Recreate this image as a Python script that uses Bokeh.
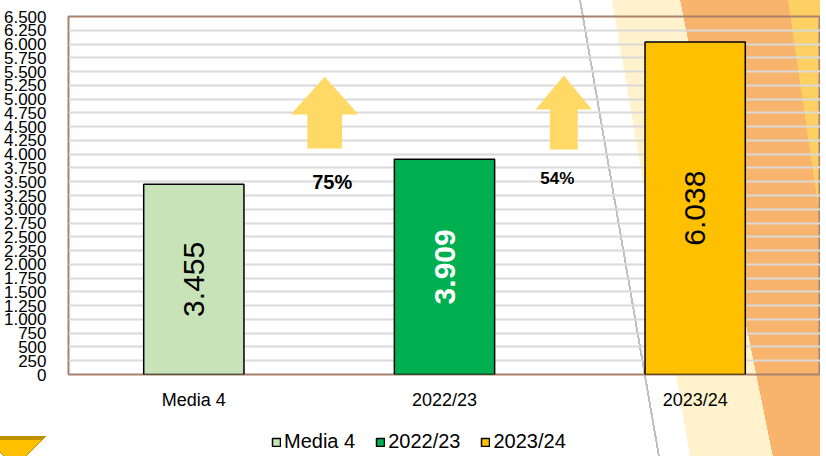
import math
from bokeh.plotting import figure
from bokeh.layouts import column
from bokeh.models import (ColumnDataSource, FixedTicker, Legend, LegendItem, Range1d)
from bokeh.core.properties import value
from bokeh.embed import file_html
from bokeh.resources import INLINE

# ---- data ----
categories = ["Media 4", "2022/23", "2023/24"]
values = [3455, 3909, 6038]
bar_colors = ["#c9e3b9", "#00b050", "#ffc000"]
label_colors = ["black", "white", "black"]
label_styles = ["normal", "bold", "normal"]
value_labels = ["3.455", "3.909", "6.038"]
pct_labels = ["75%", "54%"]
y_ticks = list(range(0, 6501, 250))
y_tick_labels = {t: f"{t:,}".replace(",", ".") for t in y_ticks}

FONT = "Liberation Sans"
W, H = 826, 457

x = [i + 0.5 for i in range(len(categories))]
src = ColumnDataSource(dict(x=x, top=values, cat=categories, color=bar_colors,
                            y=[v / 2 for v in values], lab=value_labels,
                            lcol=label_colors, lsty=label_styles))

p = figure(frame_width=752, frame_height=358, output_backend="svg", toolbar_location=None,
           x_range=Range1d(0, 3), y_range=Range1d(0, 6500),
           min_border_left=58, min_border_right=0, min_border_top=16,
           min_border_bottom=46)
p.background_fill_color = None
p.border_fill_color = None
p.outline_line_color = "#a8826c"
p.outline_line_width = 2


# ---- decorative slanted background bands (CSS, behind the canvas) ----
def band(p0, p1, color, width=None):
    (x0, y0), (x1, y1) = p0, p1
    dx, dy = x1 - x0, y1 - y0
    n = math.hypot(dx, dy)
    nx, ny = dy / n, -dx / n
    a = math.atan2(nx, -ny)
    L = W * abs(math.sin(a)) + H * abs(math.cos(a))
    t = (x0 - W / 2) * nx + (y0 - H / 2) * ny + L / 2
    deg = math.degrees(a)
    if width is None:
        return f"linear-gradient({deg:.2f}deg, transparent {t:.1f}px, {color} {t:.1f}px)"
    return (f"linear-gradient({deg:.2f}deg, transparent {t:.1f}px, {color} {t:.1f}px, "
            f"{color} {t + width:.1f}px, transparent {t + width:.1f}px)")


layers, sizes, positions = [], [], []


def add(img, size, pos):
    layers.append(img)
    sizes.append(size)
    positions.append(pos)


# small down-pointing marker at bottom-left (inner gold, outer dark gold)
add("linear-gradient(to bottom right, #ffc000 50%, transparent 50%)", "26px 26px", "15px 440px")
add("linear-gradient(to bottom left, #ffc000 50%, transparent 50%)", "26px 26px", "-11px 440px")
add("linear-gradient(to bottom right, #bf9000 50%, transparent 50%)", "31px 31px", "15px 436px")
add("linear-gradient(to bottom left, #bf9000 50%, transparent 50%)", "31px 31px", "-16px 436px")
full = f"{W}px {H}px"
add(band((788, 0), (826, 260), "#fcd062"), full, "0px 0px")
add(band((680, 0), (773, 457), "#f8b46c"), full, "0px 0px")
add(band((612, 0), (690, 457), "#fff2cc"), full, "0px 0px")
add(band((579, 0), (658, 457), "#c0c0c0", width=2), full, "0px 0px")

# ---- grid / axes ----
p.xgrid.visible = False
p.ygrid.ticker = FixedTicker(ticks=y_ticks)
p.ygrid.grid_line_color = "#d9d9d9"
p.ygrid.grid_line_width = 2

p.yaxis.ticker = FixedTicker(ticks=y_ticks)
p.yaxis.major_label_overrides = y_tick_labels
p.yaxis.axis_line_color = None
p.yaxis.major_tick_line_color = None
p.yaxis.minor_tick_line_color = None
p.yaxis.major_label_text_font = FONT
p.yaxis.major_label_text_font_size = "17px"
p.yaxis.major_label_text_color = "black"
p.yaxis.major_label_standoff = 16

p.xaxis.ticker = FixedTicker(ticks=x)
p.xaxis.major_label_overrides = {xx: c for xx, c in zip(x, categories)}
p.xaxis.axis_line_color = None
p.xaxis.major_tick_line_color = None
p.xaxis.minor_tick_line_color = None
p.xaxis.major_label_text_font = FONT
p.xaxis.major_label_text_font_size = "18px"
p.xaxis.major_label_text_color = "black"
p.xaxis.major_label_standoff = 9

# ---- bars ----
bars = p.vbar(x="x", top="top", width=0.4, fill_color="color", line_color="black",
              line_width=1.5, source=src)

p.text(x="x", y="y", text="lab", angle=math.pi / 2, text_align="center",
       text_baseline="middle", text_color="lcol", text_font_style="lsty",
       text_font=value(FONT), text_font_size="30px", source=src)

# ---- arrows (annotation: growth indicators) ----
arrow_cx = [1.022, 1.976]
arrow_head_hw = [0.135, 0.1125]
arrow_shaft_hw = [0.069, 0.0556]
arrow_tip = [5405, 5429]
arrow_base = [4721, 4811]
arrow_bottom = [4103, 4085]
axs, ays = [], []
for cx, hh, sh, t, b, bt in zip(arrow_cx, arrow_head_hw, arrow_shaft_hw,
                                arrow_tip, arrow_base, arrow_bottom):
    axs.append([cx, cx + hh, cx + sh, cx + sh, cx - sh, cx - sh, cx - hh])
    ays.append([t, b, b, bt, bt, b, b])
p.patches(axs, ays, fill_color="#ffd966", line_color=None)

pct_x = [1.052, 1.95]
pct_y = [3490, 3560]
pct_size = ["20px", "17px"]
for px_, py_, lab, fs in zip(pct_x, pct_y, pct_labels, pct_size):
    p.text(x=[px_], y=[py_], text=[lab], text_align="center", text_baseline="middle",
           text_font=value(FONT), text_font_style="bold", text_font_size=fs,
           text_color="black")

# ---- legend strip (separate small figure below the chart) ----
lf = figure(width=810, height=36, output_backend="svg", toolbar_location=None,
            x_range=Range1d(-103, -100), y_range=Range1d(90000, 100000),
            min_border=0, min_border_left=0, min_border_right=0,
            min_border_top=0, min_border_bottom=0)
lf.axis.visible = False
lf.grid.visible = False
lf.outline_line_color = None
lf.background_fill_color = None
lf.border_fill_color = None
lbars = lf.vbar(x="x", top="top", width=0.4, fill_color="color", line_color="black",
                line_width=1.5, source=src)
items = [LegendItem(label=c, renderers=[lbars], index=i) for i, c in enumerate(categories)]
legend = Legend(items=items, orientation="horizontal", location=(203, 3),
                glyph_width=10, glyph_height=10, label_standoff=3, spacing=20,
                label_text_font=FONT, label_text_font_size="20px",
                label_text_color="black", background_fill_alpha=0,
                border_line_alpha=0, padding=0, margin=0)
lf.add_layout(legend, "center")

layout = column(p, lf, spacing=0)
layout.styles = {
    "background-color": "white",
    "background-image": ", ".join(layers),
    "background-size": ", ".join(sizes),
    "background-position": ", ".join(positions),
    "background-repeat": "no-repeat",
}

open("out.html", "w").write(file_html(layout, INLINE))
